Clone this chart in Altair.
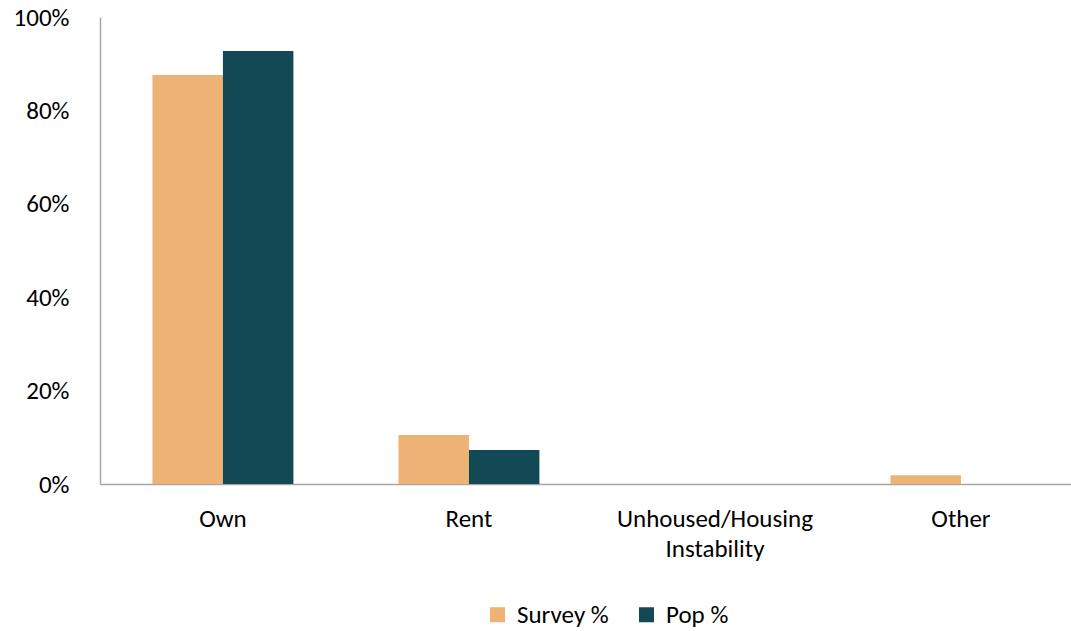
import altair as alt
import pandas as pd

categories = ["Own", "Rent", "Unhoused/Housing Instability", "Other"]
series_names = ["Survey %", "Pop %"]
survey_values = [0.876, 0.105, 0.0, 0.019]
pop_values = [0.927, 0.073, 0.0, 0.0]
y_ticks = [0, 0.2, 0.4, 0.6, 0.8, 1.0]
colors = ["#EDB274", "#124955"]

rows = []
for c, s, p in zip(categories, survey_values, pop_values):
    rows.append({"category": c, "series": series_names[0], "value": s})
    rows.append({"category": c, "series": series_names[1], "value": p})
df = pd.DataFrame(rows)

FONT = "Carlito, Lato, sans-serif"
GRAY = "#A6A6A6"
FS = 25

chart = alt.Chart(df).mark_bar().encode(
    x=alt.X(
        "category:N",
        sort=categories,
        scale=alt.Scale(paddingInner=0.427, paddingOuter=0.187, align=0.57),
        axis=alt.Axis(
            title="",
            labelAngle=0,
            ticks=False,
            domainColor=GRAY,
            domainWidth=1.5,
            labelFontSize=FS,
            labelFont=FONT,
            labelColor="#000000",
            labelPadding=22,
            labelLineHeight=30,
            labelLimit=400,
            labelExpr="datum.label == 'Unhoused/Housing Instability' ? ['Unhoused/Housing', 'Instability'] : datum.label",
        ),
    ),
    xOffset=alt.XOffset("series:N", sort=series_names, scale=alt.Scale(paddingInner=0, paddingOuter=0)),
    y=alt.Y(
        "value:Q",
        scale=alt.Scale(domain=[0, 1], nice=False),
        axis=alt.Axis(
            title="",
            values=y_ticks,
            format=".0%",
            ticks=False,
            grid=False,
            domainColor=GRAY,
            domainWidth=1.5,
            labelFontSize=FS,
            labelFont=FONT,
            labelColor="#000000",
            labelPadding=31,
        ),
    ),
    color=alt.Color(
        "series:N",
        sort=series_names,
        scale=alt.Scale(domain=series_names, range=colors),
        legend=alt.Legend(
            title=None,
            orient="none",
            direction="horizontal",
            legendX=385,
            legendY=585,
            symbolType="square",
            symbolSize=225,
            symbolStrokeWidth=0,
            labelFontSize=FS,
            labelFont=FONT,
            labelColor="#000000",
            labelOffset=7,
            columnPadding=25,
        ),
    ),
).properties(
    width=971,
    height=467,
    autosize=alt.AutoSizeParams(type="none"),
    padding={"left": 100, "top": 17, "right": 0, "bottom": 147},
).configure_view(stroke=None)

chart.save("out.html", embed_options={"renderer": "svg", "actions": False})
